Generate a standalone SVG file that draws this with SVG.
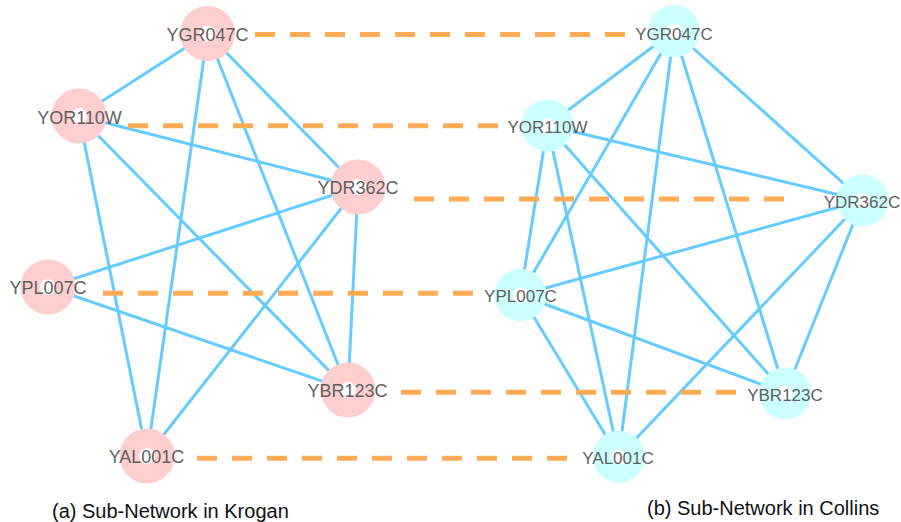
<svg xmlns="http://www.w3.org/2000/svg" width="901" height="522" viewBox="0 0 901 522">
<style>
.e{stroke:#66CCFF;stroke-width:3;fill:none}
.d{stroke:#FFAA55;stroke-width:5;stroke-dasharray:20 15;fill:none}
.k{fill:#fff;stroke:#FFCFCF;stroke-width:19.5}
.c{fill:#fff;stroke:#CCFFFF;stroke-width:18.5}
.lk{font-family:"Liberation Sans",Arial,sans-serif;font-size:18px;fill:#5f5f5f;text-anchor:middle}
.lc{font-family:"Liberation Sans",Arial,sans-serif;font-size:17px;fill:#5f5f5f;text-anchor:middle}
.cap{font-family:"Liberation Sans",Arial,sans-serif;font-size:20px;fill:#111}
</style>
<rect width="901" height="522" fill="#fff"/>
<g id="connectors">
<g id="krogan-edges">
<line class="e" x1="207.5" y1="33.5" x2="79" y2="116"/>
<line class="e" x1="207.5" y1="33.5" x2="147" y2="456"/>
<line class="e" x1="207.5" y1="33.5" x2="348" y2="390"/>
<line class="e" x1="207.5" y1="33.5" x2="358" y2="187"/>
<line class="e" x1="79" y1="116" x2="358" y2="187"/>
<line class="e" x1="79" y1="116" x2="147" y2="456"/>
<line class="e" x1="79" y1="116" x2="348" y2="390"/>
<line class="e" x1="358" y1="187" x2="48" y2="287"/>
<line class="e" x1="358" y1="187" x2="147" y2="456"/>
<line class="e" x1="358" y1="187" x2="348" y2="390"/>
<line class="e" x1="48" y1="287" x2="348" y2="390"/>
</g>
<g id="collins-edges">
<line class="e" x1="674" y1="31" x2="547.5" y2="125.5"/>
<line class="e" x1="674" y1="31" x2="520.5" y2="295"/>
<line class="e" x1="674" y1="31" x2="618.7" y2="456.7"/>
<line class="e" x1="674" y1="31" x2="785.3" y2="393.3"/>
<line class="e" x1="674" y1="31" x2="862.5" y2="200.5"/>
<line class="e" x1="547.5" y1="125.5" x2="862.5" y2="200.5"/>
<line class="e" x1="547.5" y1="125.5" x2="520.5" y2="295"/>
<line class="e" x1="547.5" y1="125.5" x2="618.7" y2="456.7"/>
<line class="e" x1="547.5" y1="125.5" x2="785.3" y2="393.3"/>
<line class="e" x1="862.5" y1="200.5" x2="520.5" y2="295"/>
<line class="e" x1="862.5" y1="200.5" x2="618.7" y2="456.7"/>
<line class="e" x1="862.5" y1="200.5" x2="785.3" y2="393.3"/>
<line class="e" x1="520.5" y1="295" x2="785.3" y2="393.3"/>
<line class="e" x1="520.5" y1="295" x2="618.7" y2="456.7"/>
</g>
<g id="alignment">
<line class="d" x1="255" y1="34.5" x2="625" y2="34.5"/>
<line class="d" x1="128" y1="125.7" x2="498" y2="125.7"/>
<line class="d" x1="414" y1="199" x2="784" y2="199"/>
<line class="d" x1="103" y1="293.3" x2="473" y2="293.3"/>
<line class="d" x1="401" y1="392.3" x2="736" y2="392.3"/>
<line class="d" x1="197" y1="458.3" x2="567" y2="458.3"/>
</g>
</g>
<g id="k-YGR047C"><circle class="k" cx="207.5" cy="33.5" r="17.75"/><text class="lk" x="207.5" y="40.5">YGR047C</text></g>
<g id="k-YOR110W"><circle class="k" cx="79" cy="116" r="17.75"/><text class="lk" x="79.5" y="123.5">YOR110W</text></g>
<g id="k-YDR362C"><circle class="k" cx="358" cy="187" r="17.75"/><text class="lk" x="358" y="194">YDR362C</text></g>
<g id="k-YPL007C"><circle class="k" cx="48" cy="287" r="17.75"/><text class="lk" x="48" y="294">YPL007C</text></g>
<g id="k-YBR123C"><circle class="k" cx="348" cy="390" r="17.75"/><text class="lk" x="347.5" y="397">YBR123C</text></g>
<g id="k-YAL001C"><circle class="k" cx="147" cy="456" r="17.75"/><text class="lk" x="146.5" y="463">YAL001C</text></g>
<g id="c-YGR047C"><circle class="c" cx="674" cy="31" r="16.75"/><text class="lc" x="674" y="39.5">YGR047C</text></g>
<g id="c-YOR110W"><circle class="c" cx="547.5" cy="125.5" r="16.75"/><text class="lc" x="547.5" y="133">YOR110W</text></g>
<g id="c-YDR362C"><circle class="c" cx="862.5" cy="200.5" r="16.75"/><text class="lc" x="862" y="208">YDR362C</text></g>
<g id="c-YPL007C"><circle class="c" cx="520.5" cy="295" r="16.75"/><text class="lc" x="520.5" y="301.5">YPL007C</text></g>
<g id="c-YBR123C"><circle class="c" cx="785.3" cy="393.3" r="16.75"/><text class="lc" x="785" y="400.5">YBR123C</text></g>
<g id="c-YAL001C"><circle class="c" cx="618.7" cy="456.7" r="16.75"/><text class="lc" x="618" y="463.5">YAL001C</text></g>
<text class="cap" x="52" y="517.5">(a) Sub-Network in Krogan</text>
<text class="cap" x="647" y="514.5">(b) Sub-Network in Collins</text>
</svg>
